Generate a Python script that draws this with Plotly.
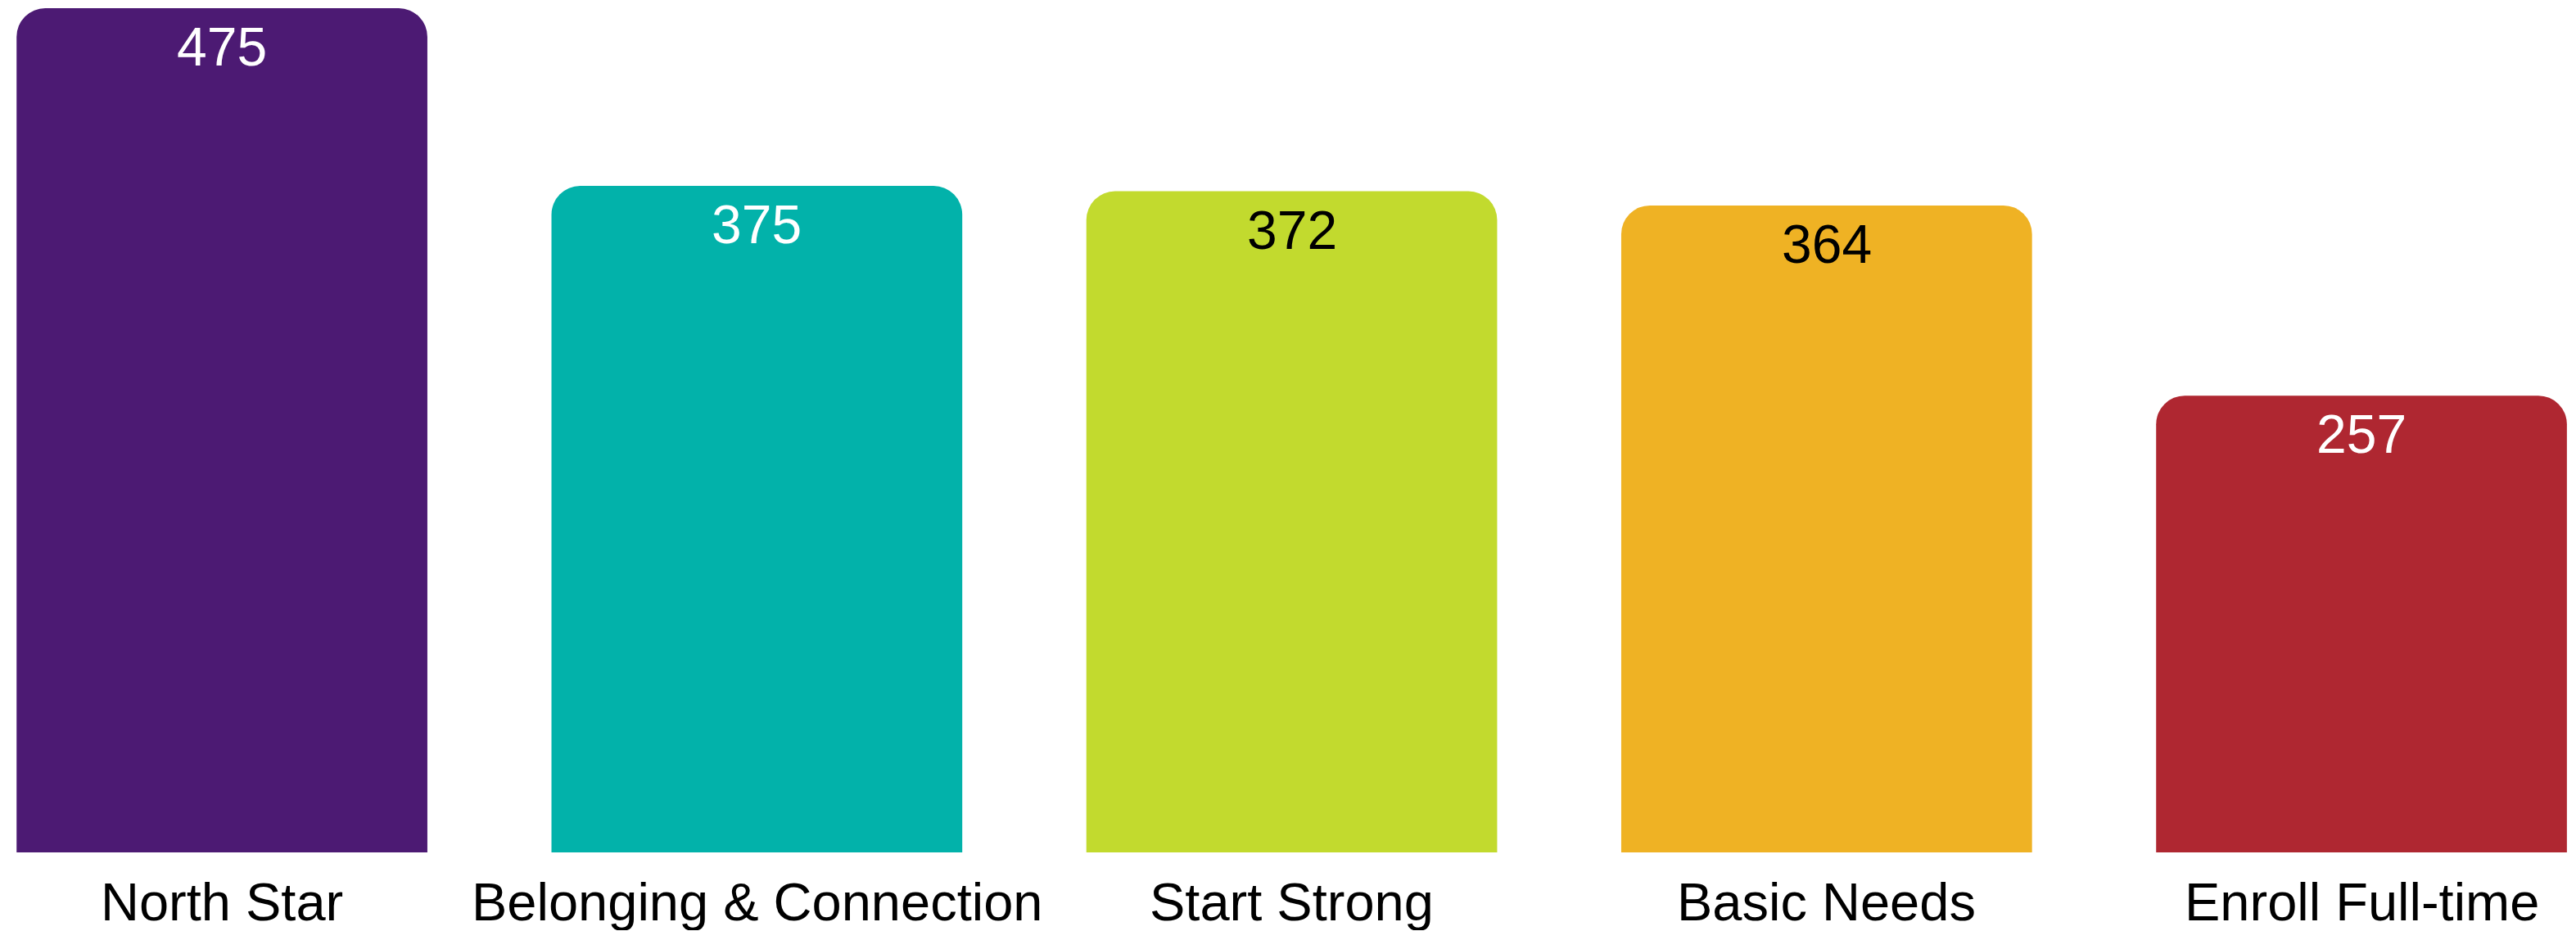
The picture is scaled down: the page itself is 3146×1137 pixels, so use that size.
import plotly.graph_objects as go

categories = ["North Star", "Belonging & Connection", "Start Strong", "Basic Needs", "Enroll Full-time"]
values = [475, 375, 372, 364, 257]
colors = ["#4C1A73", "#02B2AA", "#C2DA2E", "#EFB224", "#AF2731"]
text_colors = ["#FFFFFF", "#FFFFFF", "#000000", "#000000", "#FFFFFF"]

FONT = "Liberation Sans, Arial, sans-serif"

fig = go.Figure()
fig.add_trace(go.Bar(
    x=list(range(len(categories))),
    y=values,
    marker=dict(color=colors, cornerradius=35, line=dict(width=0)),
    width=0.768,
    hoverinfo="skip",
))

for i, (v, tc) in enumerate(zip(values, text_colors)):
    fig.add_annotation(x=i, y=v, xref="x", yref="y", text=str(v), showarrow=False,
                       yanchor="middle", yshift=-47,
                       font=dict(family=FONT, size=66, color=tc))
    fig.add_annotation(x=i, y=0, xref="x", yref="y", text=categories[i], showarrow=False,
                       yanchor="middle", yshift=-60, height=70, valign="middle",
                       font=dict(family=FONT, size=65, color="#000000"))

fig.update_layout(
    width=3146, height=1137,
    margin=dict(l=0, r=0, t=10, b=96),
    paper_bgcolor="white", plot_bgcolor="white",
    showlegend=False,
    xaxis=dict(range=[-0.415, 4.401], showticklabels=False, showgrid=False,
               zeroline=False, showline=False, ticks=""),
    yaxis=dict(range=[0, 475], showticklabels=False, showgrid=False,
               zeroline=False, showline=False, ticks=""),
)

fig.write_html("out.html")
